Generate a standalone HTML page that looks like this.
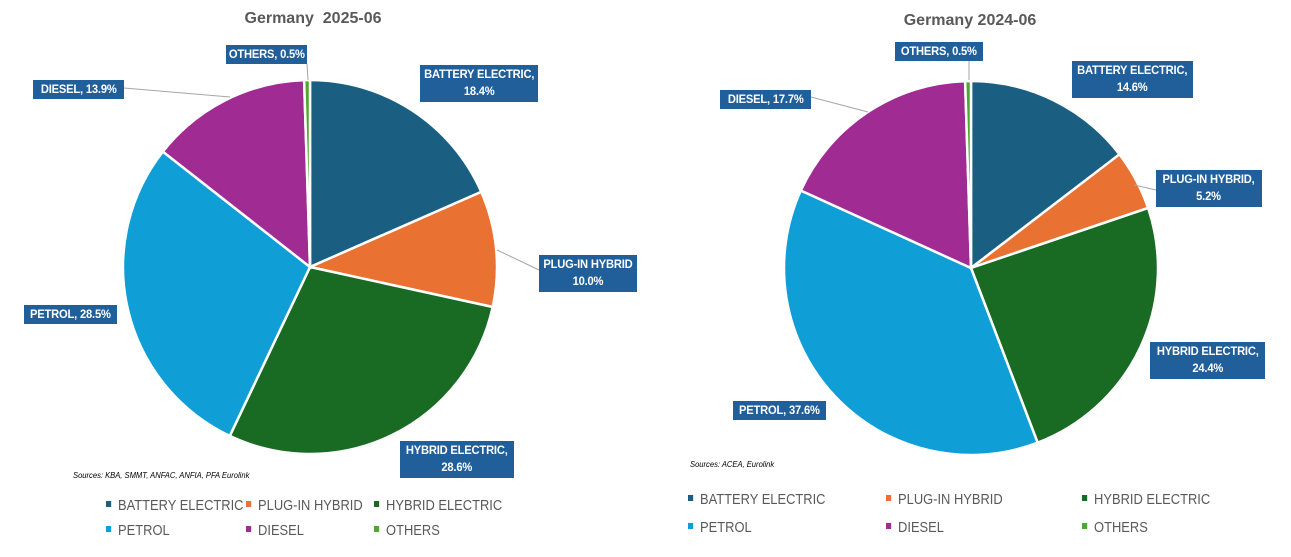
<!DOCTYPE html><html><head><meta charset="utf-8"><style>
body{margin:0;width:1291px;height:557px;background:#fff;position:relative;overflow:hidden;font-family:"Liberation Sans",sans-serif}
.t{position:absolute;font-weight:bold;font-size:16px;color:#595959;transform:translateX(-50%);white-space:nowrap}
.b{position:absolute;background:#215f9a;color:#fff;font-weight:bold;font-size:12px;text-align:center;line-height:17px;white-space:nowrap;box-sizing:border-box;padding-top:1px;letter-spacing:-0.2px}
.b span{display:inline-block;transform:scaleX(0.93)}
.s{position:absolute;font-style:italic;font-size:8px;color:#000;white-space:nowrap;transform:scaleX(0.95);transform-origin:left}
.l{position:absolute;font-size:15px;color:#595959;white-space:nowrap;transform:scaleX(0.86);transform-origin:left}
.l i{display:inline-block;width:6px;height:6px;margin-right:8px;vertical-align:middle;position:relative;top:-2px}
svg{position:absolute;left:0;top:0}
</style></head><body>
<svg id="g" width="1291" height="557"></svg>
<div class="t" style="left:313px;top:10px">Germany&nbsp; 2025-06</div>
<div class="t" style="left:970px;top:12px">Germany 2024-06</div>
<div class="b" style="left:226px;top:45px;width:81px;height:19px"><span>OTHERS, 0.5%</span></div>
<div class="b" style="left:420px;top:65px;width:118px;height:37px"><span>BATTERY ELECTRIC,<br>18.4%</span></div>
<div class="b" style="left:33px;top:80px;width:91px;height:19px"><span>DIESEL, 13.9%</span></div>
<div class="b" style="left:539px;top:255px;width:98px;height:37px"><span>PLUG-IN HYBRID<br>10.0%</span></div>
<div class="b" style="left:24px;top:305px;width:93px;height:19px"><span>PETROL, 28.5%</span></div>
<div class="b" style="left:400px;top:441px;width:114px;height:37px"><span>HYBRID ELECTRIC,<br>28.6%</span></div>
<div class="s" style="left:73px;top:471px">Sources: KBA, SMMT, ANFAC, ANFIA, PFA Eurolink</div>
<div class="b" style="left:895px;top:42px;width:88px;height:19px"><span>OTHERS, 0.5%</span></div>
<div class="b" style="left:1072px;top:61px;width:121px;height:37px"><span>BATTERY ELECTRIC,<br>14.6%</span></div>
<div class="b" style="left:720px;top:90px;width:91px;height:19px"><span>DIESEL, 17.7%</span></div>
<div class="b" style="left:1156px;top:170px;width:106px;height:37px"><span>PLUG-IN HYBRID,<br>5.2%</span></div>
<div class="b" style="left:1150px;top:342px;width:115px;height:37px"><span>HYBRID ELECTRIC,<br>24.4%</span></div>
<div class="b" style="left:733px;top:401px;width:93px;height:19px"><span>PETROL, 37.6%</span></div>
<div class="s" style="left:690px;top:460px">Sources: ACEA, Eurolink</div>
<div class="l" style="left:106px;top:497px"><i style="background:#1a5f82"></i>BATTERY ELECTRIC</div>
<div class="l" style="left:246px;top:497px"><i style="background:#e97132"></i>PLUG-IN HYBRID</div>
<div class="l" style="left:374px;top:497px"><i style="background:#196b24"></i>HYBRID ELECTRIC</div>
<div class="l" style="left:106px;top:522px"><i style="background:#0f9ed5"></i>PETROL</div>
<div class="l" style="left:246px;top:522px"><i style="background:#a02b93"></i>DIESEL</div>
<div class="l" style="left:374px;top:522px"><i style="background:#4ea72e"></i>OTHERS</div>
<div class="l" style="left:688px;top:491px"><i style="background:#1a5f82"></i>BATTERY ELECTRIC</div>
<div class="l" style="left:886px;top:491px"><i style="background:#e97132"></i>PLUG-IN HYBRID</div>
<div class="l" style="left:1082px;top:491px"><i style="background:#196b24"></i>HYBRID ELECTRIC</div>
<div class="l" style="left:688px;top:519px"><i style="background:#0f9ed5"></i>PETROL</div>
<div class="l" style="left:886px;top:519px"><i style="background:#a02b93"></i>DIESEL</div>
<div class="l" style="left:1082px;top:519px"><i style="background:#4ea72e"></i>OTHERS</div>
<script>
var C=["#1a5f82","#e97132","#196b24","#0f9ed5","#a02b93","#4ea72e"];
function pie(cx,cy,r,v){var s="",a=0,t=v.reduce((x,y)=>x+y);
v.forEach(function(x,i){var b=a+x/t*2*Math.PI;
var x1=cx+r*Math.sin(a),y1=cy-r*Math.cos(a),x2=cx+r*Math.sin(b),y2=cy-r*Math.cos(b);
s+='<path d="M'+cx+' '+cy+'L'+x1+' '+y1+'A'+r+' '+r+' 0 '+((b-a)>Math.PI?1:0)+' 1 '+x2+' '+y2+'Z" fill="'+C[i]+'" stroke="#fff" stroke-width="2.5"/>';a=b;});return s;}
var L='<g stroke="#a6a6a6" stroke-width="1" fill="none"><polyline points="307,64 308,80"/><polyline points="124,88 230,97"/><polyline points="497,250 539,270"/><polyline points="969,61 969,80"/><polyline points="811,97 868,112"/><polyline points="1134,185 1156,190"/></g>';
document.getElementById("g").innerHTML=pie(310,267,187,[18.4,10.0,28.6,28.5,13.9,0.5])+pie(971,268,187,[14.6,5.2,24.4,37.6,17.7,0.5])+L;
</script>
</body></html>
